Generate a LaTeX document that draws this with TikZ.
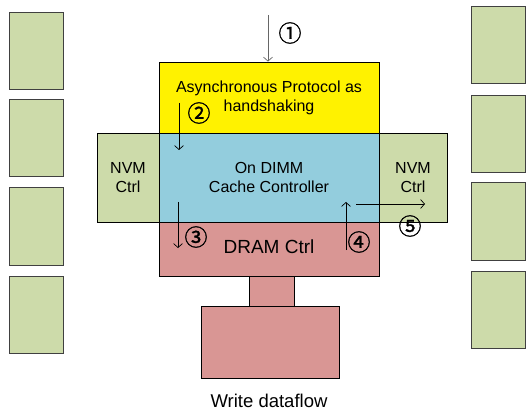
\documentclass[tikz,border=0pt]{standalone}
\usepackage{fontspec}
\setmainfont{Liberation Sans}
\newfontfamily\circfont[FakeBold=1.2]{Noto Sans CJK SC}
\usetikzlibrary{arrows.meta}
\definecolor{nvmgreen}{RGB}{205,219,170}
\definecolor{cacheblue}{RGB}{147,205,221}
\definecolor{dramred}{RGB}{217,150,148}
\tikzset{
  blk/.style={draw=black, line width=0.8pt, inner sep=0pt, align=center,
    font=\fontsize{16}{19}\selectfont},
  dimm/.style={draw=black!75, line width=1pt, fill=nvmgreen, inner sep=0pt,
    minimum width=54pt, minimum height=77pt},
  flow/.style={line width=0.7pt, -{Straight Barb[length=4pt,width=9pt]}},
  num/.style={font=\circfont\fontsize{23}{23}\selectfont, inner sep=0pt}
}
\begin{document}
\begin{tikzpicture}[x=1pt,y=-1pt]
\useasboundingbox (0,0) rectangle (526,411);
% DIMMs on both sides
\foreach \y/\n in {51/1,138.5/2,226.5/3,314.5/4}
  \node[dimm] (left\n) at (36,\y) {};
\foreach \y/\n in {45.5/1,134/2,221.5/3,309.5/4}
  \node[dimm] (right\n) at (498.5,\y) {};
% controller
\node[blk, fill=nvmgreen, minimum width=62pt, minimum height=89pt] (nvmL) at (128,177.5) {NVM\\Ctrl};
\node[blk, fill=nvmgreen, minimum width=68pt, minimum height=89pt] (nvmR) at (413,177.5) {NVM\\Ctrl};
\node[blk, fill=yellow, minimum width=220pt, minimum height=71pt] (proto) at (269,97.5) {Asynchronous Protocol as\\handshaking};
\node[blk, fill=cacheblue, minimum width=220pt, minimum height=89pt] (cache) at (269,177.5) {On DIMM\\Cache Controller};
\node[blk, fill=dramred, minimum width=220pt, minimum height=54pt] (dram) at (269,249) {};
\node[font=\fontsize{19}{22}\selectfont] (dramtxt) at (269,247) {DRAM Ctrl};
\node[blk, fill=dramred, minimum width=45pt, minimum height=30pt] (neck) at (271.5,291) {};
\node[blk, fill=dramred, minimum width=138pt, minimum height=72pt] (chip) at (270,342) {};
\node[font=\fontsize{18.5}{22}\selectfont] (title) at (269,401) {Write dataflow};
% flow arrows
\coordinate (s1) at (268,15);
\draw[flow, draw=black!60] (s1) -- (s1 |- proto.north);
\coordinate (s2) at (179,103); \coordinate (e2) at (179,150);
\draw[flow] (s2) -- (e2);
\coordinate (s3) at (178,202); \coordinate (e3) at (178,248);
\draw[flow] (s3) -- (e3);
\coordinate (s4) at (346,250); \coordinate (e4) at (346,202);
\draw[flow] (s4) -- (e4);
\coordinate (s5) at (356,204); \coordinate (e5) at (425,204);
\draw[flow] (s5) -- (e5);
% step numbers
\node[num] (n1) at (290,33) {①};
\node[num] (n2) at (199,113) {②};
\node[num] (n3) at (196,237) {③};
\node[num] (n4) at (359,242) {④};
\node[num] (n5) at (410,226) {⑤};
\end{tikzpicture}
\end{document}
